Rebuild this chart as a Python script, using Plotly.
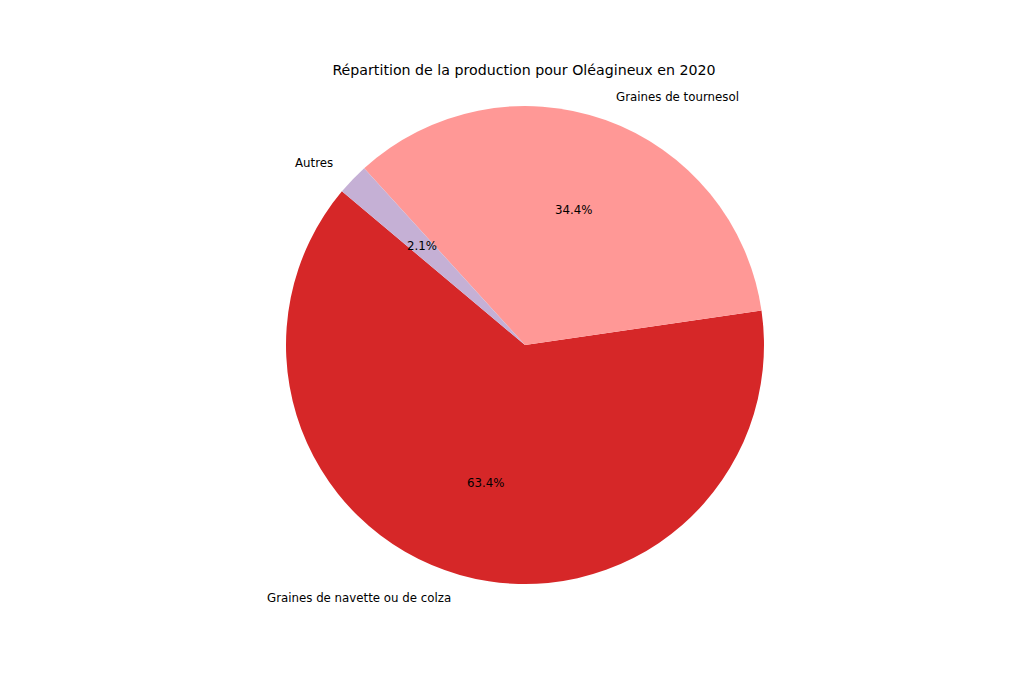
import math
import plotly.graph_objects as go

labels = ["Graines de navette ou de colza", "Graines de tournesol", "Autres"]
values = [63.42, 34.44, 2.14]
colors = ["#d62728", "#ff9896", "#c5b0d5"]
title = "Répartition de la production pour Oléagineux en 2020"
start_angle = 140  # degrees, counterclockwise from 3 o'clock

W, H = 1024, 683
off = 8  # page body margin
cx, cy, R = 525 - off, 345 - off, 239
ml, mr = cx - R, W - (cx + R)
mt, mb = cy - R, H - (cy + R)

total = sum(values)
first_span = 360 * values[0] / total
rotation = (90 - start_angle - first_span) % 360

fig = go.Figure(go.Pie(
    labels=labels, values=values, sort=False,
    direction="counterclockwise", rotation=rotation,
    marker=dict(colors=colors, line=dict(width=0)),
    textinfo="none", hoverinfo="label+percent", showlegend=False,
    domain=dict(x=[0, 1], y=[0, 1]),
))

annotations = []
theta = start_angle
for lab, v in zip(labels, values):
    span = 360 * v / total
    mid = math.radians(theta + span / 2)
    c, s = math.cos(mid), math.sin(mid)
    annotations.append(dict(
        x=0.5 + 0.5 * 1.1 * c, y=0.5 + 0.5 * 1.1 * s, xref="paper", yref="paper",
        text=lab, showarrow=False, xanchor="left" if c > 0 else "right", yanchor="middle",
        font=dict(size=11.8, color="black", family="DejaVu Sans")))
    annotations.append(dict(
        x=0.5 + 0.5 * 0.6 * c, y=0.5 + 0.5 * 0.6 * s, xref="paper", yref="paper",
        text=f"{100 * v / total:.1f}%", showarrow=False, xanchor="center", yanchor="middle",
        font=dict(size=11.8, color="black", family="DejaVu Sans")))
    theta += span

fig.update_layout(
    width=W, height=H,
    margin=dict(l=ml, r=mr, t=mt, b=mb, pad=0),
    paper_bgcolor="white", plot_bgcolor="white",
    title=dict(text=title, x=(524 - off) / W, xanchor="center", y=1 - (70 - off) / H, yanchor="middle",
               font=dict(size=14.2, color="black", family="DejaVu Sans")),
    annotations=annotations,
)

fig.write_html("out.html")
